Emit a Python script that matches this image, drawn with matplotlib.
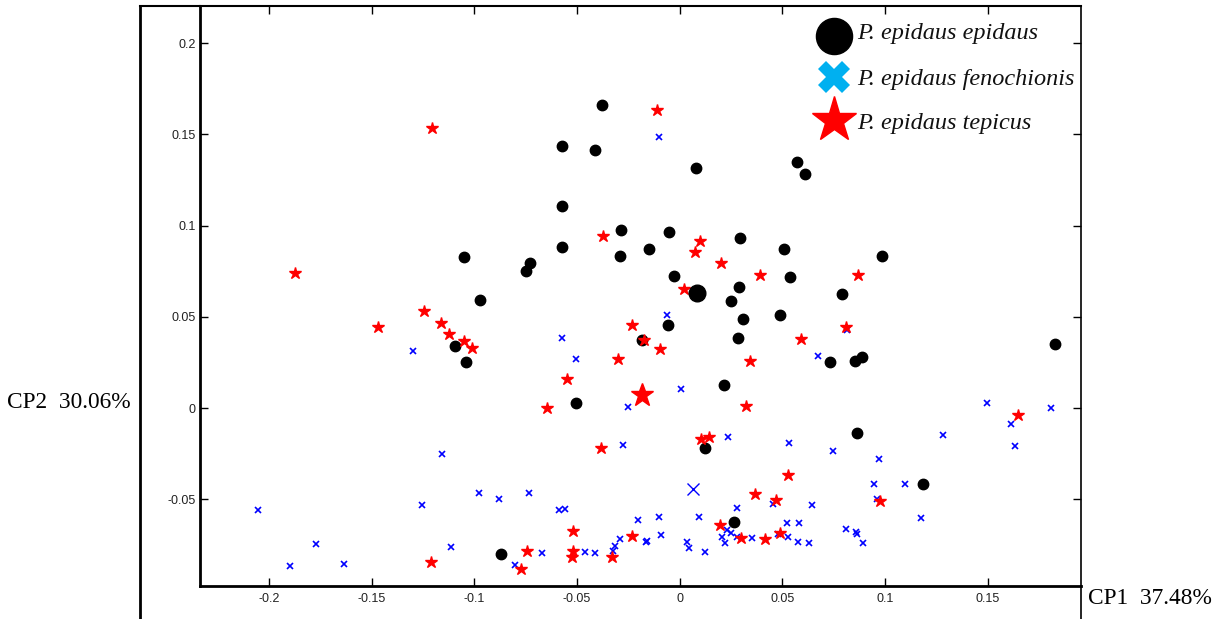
import matplotlib
matplotlib.use("Agg")
import matplotlib.pyplot as plt
from matplotlib.lines import Line2D

# ---- data ----
epidaus_x = [-0.0378, -0.0575, -0.0411, 0.0078, 0.0573, 0.0612, -0.0575, -0.0286, -0.0575, -0.0051,
             -0.0291, -0.0151, 0.0295, 0.0506, -0.0026, 0.0290, 0.0251, 0.0536, 0.0987, 0.0790,
             0.0310, 0.0487, -0.0056, 0.0282, -0.0182, 0.0733, 0.0852, 0.0886, 0.0217, -0.0504,
             0.1828, 0.0123, 0.0865, 0.1183, 0.0263, -0.0872, -0.1049, -0.0973, -0.0750, -0.0729,
             -0.1093, -0.1041]
epidaus_y = [0.1663, 0.1438, 0.1413, 0.1318, 0.1347, 0.1283, 0.1108, 0.0978, 0.0884, 0.0963,
             0.0835, 0.0872, 0.0930, 0.0872, 0.0727, 0.0665, 0.0585, 0.0718, 0.0835, 0.0627,
             0.0488, 0.0511, 0.0455, 0.0387, 0.0374, 0.0253, 0.0257, 0.0281, 0.0129, 0.0029,
             0.0351, -0.0216, -0.0139, -0.0417, -0.0624, -0.0800, 0.0830, 0.0594, 0.0753, 0.0795,
             0.0340, 0.0254]
epidaus_centroid = (0.0083, 0.0632)

fenochionis_x = [-0.0102, -0.1297, -0.0572, -0.0504, -0.0063, 0.0005, 0.0675, 0.0813, -0.1159, -0.0250,
                 -0.0275, -0.2052, -0.1253, -0.0976, -0.0880, -0.0735, -0.0588, -0.0559, -0.0205, -0.0291,
                 -0.0161, -0.0315, -0.0323, -0.0414, -0.0461, -0.0671, -0.1114, -0.1773, -0.1636, -0.1898,
                 -0.0801, 0.0234, 0.0532, 0.0745, 0.0972, 0.1284, 0.1496, 0.1808, 0.1612, 0.1633,
                 0.0946, 0.1099, 0.0959, 0.1175, 0.0281, 0.0646, 0.0453, -0.0099, 0.0094, -0.0090,
                 -0.0163, 0.0037, 0.0047, 0.0125, 0.0205, 0.0232, 0.0248, 0.0221, 0.0278, 0.0351,
                 0.0521, 0.0581, 0.0480, 0.0529, 0.0576, 0.0630, 0.0810, 0.0859, 0.0865, 0.0893]
fenochionis_y = [0.1485, 0.0311, 0.0387, 0.0268, 0.0511, 0.0104, 0.0285, 0.0427, -0.0251, 0.0007,
                 -0.0200, -0.0558, -0.0529, -0.0463, -0.0500, -0.0467, -0.0558, -0.0555, -0.0611, -0.0715,
                 -0.0730, -0.0758, -0.0785, -0.0794, -0.0789, -0.0792, -0.0763, -0.0745, -0.0855, -0.0866,
                 -0.0860, -0.0156, -0.0189, -0.0233, -0.0280, -0.0150, 0.0027, 0.0003, -0.0088, -0.0207,
                 -0.0414, -0.0414, -0.0496, -0.0600, -0.0548, -0.0529, -0.0526, -0.0597, -0.0597, -0.0697,
                 -0.0732, -0.0734, -0.0767, -0.0789, -0.0707, -0.0670, -0.0683, -0.0741, -0.0707, -0.0712,
                 -0.0632, -0.0632, -0.0688, -0.0708, -0.0732, -0.0737, -0.0664, -0.0679, -0.0688, -0.0741]
fenochionis_centroid = (0.0066, -0.0441)

tepicus_x = [-0.1206, -0.0112, -0.1873, -0.1469, -0.1244, -0.1162, -0.1124, -0.1052, -0.1013, -0.0549,
             -0.0375, 0.0100, 0.0076, 0.0201, 0.0393, 0.0868, 0.0022, -0.0232, -0.0174, -0.0097,
             -0.0299, 0.0589, 0.0810, 0.0341, -0.0645, -0.0383, -0.0520, -0.0231, -0.0745, -0.0520,
             -0.0523, -0.0328, -0.0774, -0.1211, 0.0321, 0.0104, 0.0143, 0.0527, 0.0368, 0.0469,
             0.0974, 0.0196, 0.0297, 0.0417, 0.0490, 0.1646]
tepicus_y = [0.1535, 0.1633, 0.0740, 0.0444, 0.0530, 0.0467, 0.0409, 0.0367, 0.0332, 0.0162,
             0.0946, 0.0917, 0.0855, 0.0793, 0.0731, 0.0731, 0.0654, 0.0453, 0.0372, 0.0323,
             0.0267, 0.0378, 0.0444, 0.0256, -0.0002, -0.0218, -0.0674, -0.0703, -0.0785, -0.0783,
             -0.0816, -0.0818, -0.0882, -0.0844, 0.0012, -0.0167, -0.0156, -0.0364, -0.0469, -0.0505,
             -0.0507, -0.0641, -0.0712, -0.0718, -0.0685, -0.0037]
tepicus_centroid = (-0.0185, 0.0072)

x_ticks = [-0.2, -0.15, -0.1, -0.05, 0, 0.05, 0.1, 0.15]
x_tick_labels = ['-0.2', '-0.15', '-0.1', '-0.05', '0', '0.05', '0.1', '0.15']
y_ticks = [-0.05, 0, 0.05, 0.1, 0.15, 0.2]
y_tick_labels = ['-0.05', '0', '0.05', '0.1', '0.15', '0.2']
legend_labels = ['P. epidaus epidaus', 'P. epidaus fenochionis', 'P. epidaus tepicus']
x_label = 'CP1  37.48%'
y_label = 'CP2  30.06%'

# ---- figure ----
W, H = 1219, 619
fig = plt.figure(figsize=(W / 100, H / 100), dpi=100)

ax_l, ax_r, ax_t, ax_b = 200, 1081, 5.5, 586
ax = fig.add_axes([ax_l / W, (H - ax_b) / H, (ax_r - ax_l) / W, (ax_b - ax_t) / H])

ax.plot(epidaus_x, epidaus_y, 'o', color='black', ms=7.5, mec='black', zorder=3)
ax.plot(fenochionis_x, fenochionis_y, 'x', color='#0000ff', ms=4, mew=1.2, zorder=4)
ax.plot(tepicus_x, tepicus_y, '*', color='red', ms=9, mec='red', zorder=5)
ax.plot(*epidaus_centroid, 'o', color='black', ms=12, zorder=6)
ax.plot(*fenochionis_centroid, 'x', color='#0000ff', ms=9, mew=1.0, zorder=6)
ax.plot(*tepicus_centroid, '*', color='red', ms=17, zorder=6)

ax.set_xlim(-0.2336, 0.1954)
ax.set_ylim(-0.0975, 0.2207)
ax.set_xticks(x_ticks)
ax.set_xticklabels(x_tick_labels)
ax.set_yticks(y_ticks)
ax.set_yticklabels(y_tick_labels)
ax.tick_params(direction='in', top=True, right=True, length=6, width=1,
               labelsize=9, colors='black', labelcolor='#222222')
ax.tick_params(axis='y', pad=3)
ax.tick_params(axis='x', pad=5)
for lab in ax.get_xticklabels() + ax.get_yticklabels():
    lab.set_family('Liberation Sans')

ax.spines['left'].set_linewidth(2)
ax.spines['bottom'].set_linewidth(2)
ax.spines['top'].set_linewidth(1.5)
ax.spines['right'].set_linewidth(1.2)

# outer frame lines (figure pixel coordinates)
def fline(x0, y0, x1, y1, lw):
    fig.add_artist(Line2D([x0 / W, x1 / W], [1 - y0 / H, 1 - y1 / H],
                          transform=fig.transFigure, color='black', lw=lw))

fline(140, 5.5, 140, H, 2)
fline(140, 5.5, ax_l, 5.5, 1.5)
fline(ax_r, ax_b, ax_r, H, 1.2)

# axis labels
fig.text(7 / W, 1 - 403 / H, y_label, fontsize=16.8, family='Liberation Serif',
         ha='left', va='center')
fig.text(1088 / W, 1 - 598 / H, x_label, fontsize=16.8, family='Liberation Serif',
         ha='left', va='center')

# legend
leg_y = [36, 77, 120]
text_y = [34, 79, 123]
leg_styles = [dict(marker='o', color='black', ms=26),
              dict(marker='X', color='#00b0f0', ms=23, mew=0),
              dict(marker='*', color='red', ms=34)]
for yy, ty, st, lab in zip(leg_y, text_y, leg_styles, legend_labels):
    fig.add_artist(Line2D([834 / W], [1 - yy / H], transform=fig.transFigure,
                          linestyle='none', **st))
    fig.text(857 / W, 1 - ty / H, lab, fontsize=17.5, family='Liberation Serif',
             style='italic', ha='left', va='center', color='#111111')

fig.savefig('out.png', dpi=100)
